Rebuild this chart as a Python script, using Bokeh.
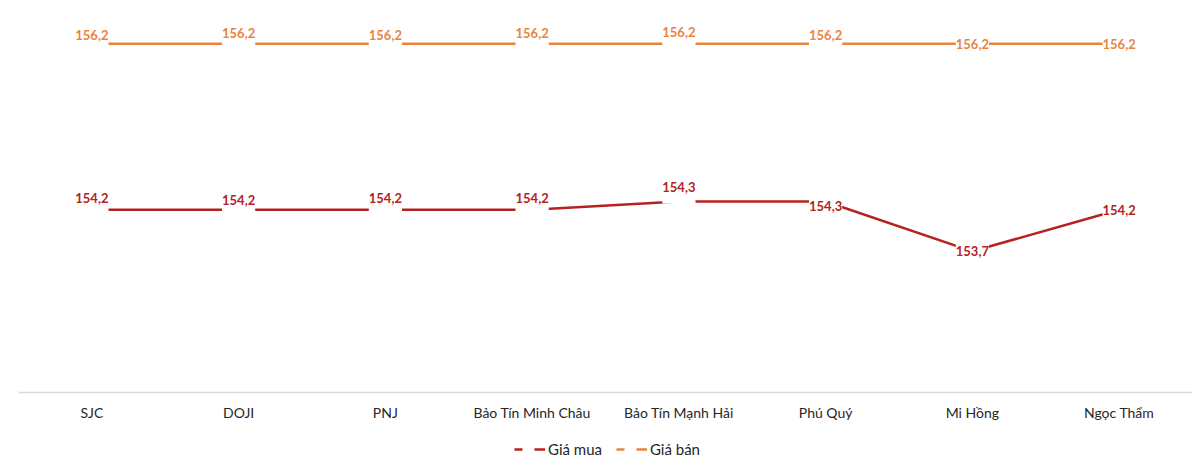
from bokeh.plotting import figure
from bokeh.models import ColumnDataSource, Legend, LegendItem, Range1d, Span
from bokeh.core.properties import value
from bokeh.embed import file_html
from bokeh.resources import INLINE

categories = ["SJC", "DOJI", "PNJ", "Bảo Tín Minh Châu", "Bảo Tín Mạnh Hải",
              "Phú Quý", "Mi Hồng", "Ngọc Thẩm"]
gia_mua = [154.2, 154.2, 154.2, 154.2, 154.3, 154.3, 153.7, 154.2]
gia_ban = [156.2, 156.2, 156.2, 156.2, 156.2, 156.2, 156.2, 156.2]
mua_text = ["154,2", "154,2", "154,2", "154,2", "154,3", "154,3", "153,7", "154,2"]
ban_text = ["156,2", "156,2", "156,2", "156,2", "156,2", "156,2", "156,2", "156,2"]

# label placement in screen px (negative = up)
mua_dy = [-12, -10, -12, -12, -15, 4, 0, 0]
ban_dy = [-9, -11, -9, -11, -12, -9, 0, 0]

RED = "#B5221F"
ORANGE = "#E8843E"
FONT = "Lato"

AXIS_MIN = 152.0
AXIS_MAX = 156.6
PLOT_H = 382          # px between axis line and top of value area
EXTRA_H = 70          # px below the axis line for category labels + legend
px_per_unit = PLOT_H / (AXIS_MAX - AXIS_MIN)

p = figure(x_range=categories, frame_width=1174, frame_height=PLOT_H + EXTRA_H,
           output_backend="svg", sizing_mode="fixed",
           toolbar_location=None, y_axis_location=None, x_axis_location=None,
           min_border_left=18, min_border_right=0, min_border_top=10,
           min_border_bottom=0)
p.y_range = Range1d(AXIS_MIN - EXTRA_H / px_per_unit, AXIS_MAX)
p.extra_y_ranges = {"legend_only": Range1d(1000, 1001)}
p.outline_line_color = None
p.xgrid.grid_line_color = None
p.ygrid.grid_line_color = None
p.background_fill_color = "white"
p.border_fill_color = "white"

# category axis line
p.add_layout(Span(location=AXIS_MIN, dimension="width",
                  line_color="#D9D9D9", line_width=1.5))

src = ColumnDataSource(dict(cat=categories, mua=gia_mua, ban=gia_ban,
                            mua_t=mua_text, ban_t=ban_text,
                            mua_dy=mua_dy, ban_dy=ban_dy))

p.line("cat", "mua", source=src, line_color=RED, line_width=2.5)
p.line("cat", "ban", source=src, line_color=ORANGE, line_width=2.5)

for col, txt, dy, color in [("mua", "mua_t", "mua_dy", RED), ("ban", "ban_t", "ban_dy", ORANGE)]:
    p.text(x="cat", y=col, text=txt, source=src, y_offset=dy,
           text_align="center", text_baseline="middle",
           text_font=value(FONT), text_font_style="bold", text_font_size="13px",
           text_color=color, background_fill_color="white",
           padding=dict(left=0, right=0, top=12, bottom=12))

# category tick labels under the axis line
cat_src = ColumnDataSource(dict(cat=categories, base=[AXIS_MIN] * len(categories)))
p.text(x="cat", y="base", text="cat", source=cat_src, y_offset=20,
       text_align="center", text_baseline="middle",
       text_font=value(FONT), text_font_size="14px", text_color="#262626")

# legend renderers: same series, dashed, drawn on an off-screen range so only
# their legend glyphs show (as in the reference legend)
r_mua = p.line("cat", "mua", source=src, y_range_name="legend_only",
               line_color=RED, line_width=2.5, line_dash="8 12 11 1")
r_ban = p.line("cat", "ban", source=src, y_range_name="legend_only",
               line_color=ORANGE, line_width=2.5, line_dash="8 12 11 1")
legend = Legend(items=[LegendItem(label="Giá mua", renderers=[r_mua]),
                       LegendItem(label="Giá bán", renderers=[r_ban])],
                orientation="horizontal", location=(508, 4),
                label_text_font=FONT, label_text_font_size="15px",
                label_text_color="#262626", glyph_width=31, glyph_height=14,
                label_height=14,
                label_standoff=3, spacing=14, border_line_color=None,
                background_fill_alpha=0, margin=0, padding=2)
p.add_layout(legend, "center")

open("out.html", "w").write(file_html(p, INLINE))
